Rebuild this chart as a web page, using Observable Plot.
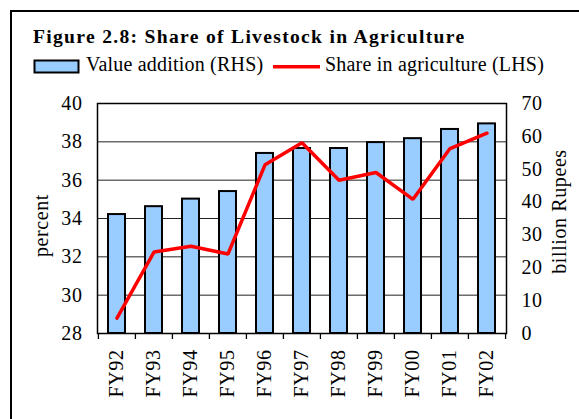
<!DOCTYPE html>
<html>
<head>
<meta charset="utf-8">
<script src="https://cdn.jsdelivr.net/npm/d3@7"></script>
<script src="https://cdn.jsdelivr.net/npm/@observablehq/plot@0.6"></script>
<style>
  html, body { margin: 0; padding: 0; background: #fff; }
  #wrap { position: relative; width: 579px; height: 419px; overflow: hidden; background: #fff; }
  #border { position: absolute; left: 10px; top: 10px; width: 700px; height: 600px;
            border-left: 2.5px solid #000; border-top: 2px solid #000; pointer-events: none; }
  #header { display: block; }
  #chart { position: absolute; left: 0; top: 80px; }
</style>
</head>
<body>
<div id="wrap">
  <svg id="header" width="579" height="80" font-family="Liberation Serif">
    <text x="33" y="42.7" font-size="19.6" font-weight="bold" letter-spacing="1.3">Figure 2.8: Share of Livestock in Agriculture</text>
    <rect x="34.5" y="60.5" width="44" height="12" fill="#99CCFF" stroke="#000" stroke-width="2"></rect>
    <text x="86" y="70.7" font-size="20" letter-spacing="0.2">Value addition (RHS)</text>
    <line x1="273" x2="320" y1="66.7" y2="66.7" stroke="#FF0000" stroke-width="3.5"></line>
    <text x="325" y="70.7" font-size="20" letter-spacing="0.2">Share in agriculture (LHS)</text>
  </svg>
  <div id="chart"></div>
  <div id="border"></div>
</div>
<script>
// ---- data ----
const categories = ["FY92","FY93","FY94","FY95","FY96","FY97","FY98","FY99","FY00","FY01","FY02"];
const valueAddition = [36.2, 38.6, 40.9, 43.2, 54.8, 56.3, 56.3, 58.1, 59.3, 62.1, 63.8]; // billion Rupees (RHS)
const shareInAgriculture = [28.8, 32.25, 32.55, 32.15, 36.8, 37.95, 36.0, 36.4, 35.0, 37.65, 38.45]; // percent (LHS)
const leftTicks = [28, 30, 32, 34, 36, 38, 40];
const rightTicks = [0, 10, 20, 30, 40, 50, 60, 70];

// ---- layout ----
const W = 579, H = 339;
const mL = 97, mR = 73, mT = 23, mB = 86;
const lMin = 28, lMax = 40, rMin = 0, rMax = 70;
const toLeft = v => lMin + (v - rMin) * (lMax - lMin) / (rMax - rMin);
const toRight = v => Math.round(rMin + (v - lMin) * (rMax - rMin) / (lMax - lMin));
const plotW = W - mL - mR, plotH = H - mT - mB;
const step = plotW / categories.length;
const pxPerUnit = plotH / (lMax - lMin);
const tickLen = 6;

const rows = categories.map((c, i) => ({year: c, value: valueAddition[i], share: shareInAgriculture[i]}));

const chart = Plot.plot({
  width: W, height: H,
  marginLeft: mL, marginRight: mR, marginTop: mT, marginBottom: mB,
  style: {fontFamily: "Liberation Serif", fontSize: "20px", color: "#000", background: "transparent", letterSpacing: "0.6px"},
  x: {type: "band", domain: categories, paddingInner: 0.54, paddingOuter: 0.27, axis: null},
  y: {domain: [lMin, lMax], axis: null},
  marks: [
    Plot.ruleY(leftTicks.filter(t => t > lMin && t < lMax), {stroke: "#222", strokeWidth: 1}),
    Plot.barY(rows, {x: "year", y1: lMin, y2: d => toLeft(d.value), fill: "#99CCFF", stroke: "#000", strokeWidth: 2}),
    Plot.line(rows, {x: "year", y: "share", stroke: "#FF0000", strokeWidth: 3.5, strokeLinejoin: "miter"}),
    Plot.frame({stroke: "#000", strokeWidth: 1.5}),
    // category boundary ticks below the axis
    Plot.ruleX(categories, {x: d => d, y1: lMin, y2: lMin - tickLen / pxPerUnit, dx: -step / 2, stroke: "#000", strokeWidth: 1.3}),
    Plot.ruleX(categories.slice(-1), {x: d => d, y1: lMin, y2: lMin - tickLen / pxPerUnit, dx: step / 2, stroke: "#000", strokeWidth: 1.3}),
    Plot.axisY({ticks: leftTicks, tickSize: 0, tickPadding: 15, label: null, tickFormat: d => String(d)}),
    Plot.axisY({anchor: "right", ticks: rightTicks.map(toLeft), tickSize: 0, tickPadding: 15, label: null, tickFormat: d => String(toRight(d))}),
    Plot.text(categories, {x: d => d, y: lMin, rotate: -90, textAnchor: "end", dy: 16, fontSize: 20}),
    Plot.text(["percent"], {frameAnchor: "left", textAnchor: "middle", rotate: -90, dx: -56, dy: 7, fontSize: 20}),
    Plot.text(["billion Rupees"], {frameAnchor: "right", textAnchor: "middle", rotate: -90, dx: 53, dy: -7, fontSize: 20, letterSpacing: "1px"})
  ]
});
document.getElementById("chart").appendChild(chart);
</script>
</body>
</html>
